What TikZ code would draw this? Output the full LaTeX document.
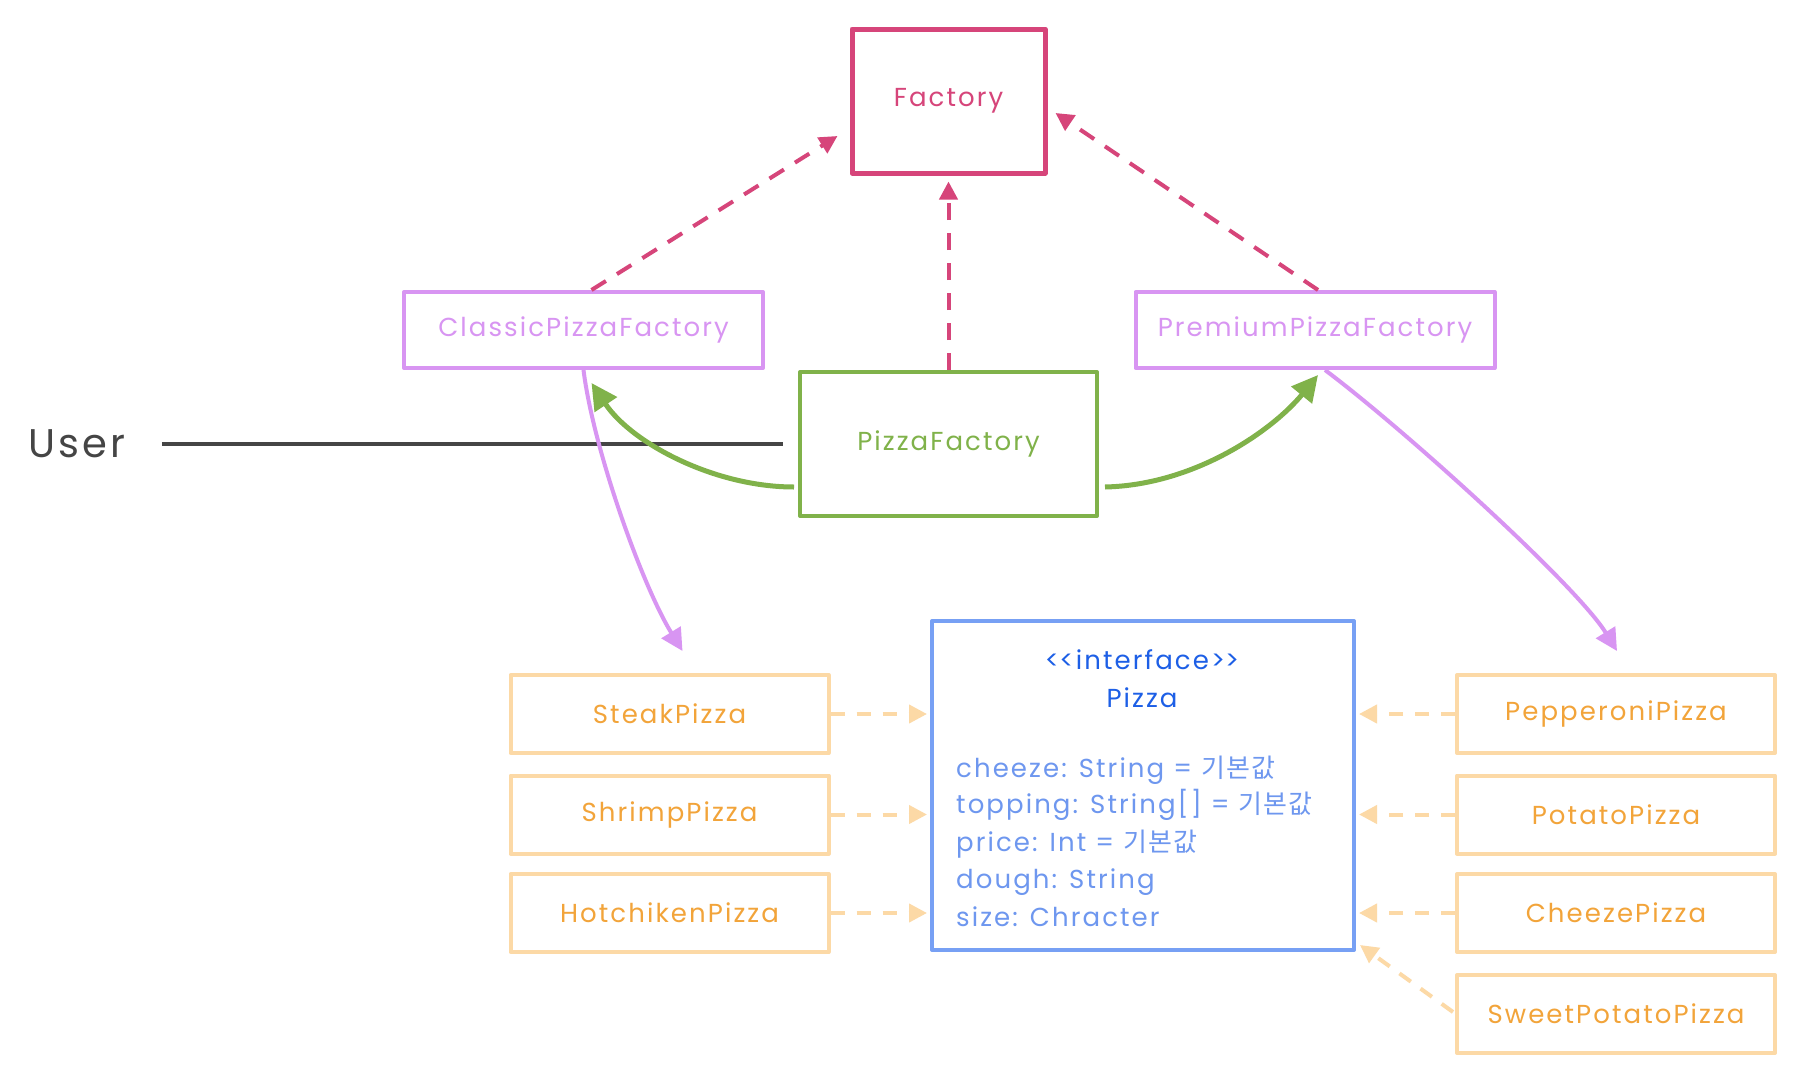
\documentclass[tikz,border=0pt]{standalone}
\usepackage{fontspec}
\setmainfont{Poppins}[LetterSpace=8]
\newfontfamily\korfont{Noto Sans CJK KR}[LetterSpace=4]
\usetikzlibrary{arrows.meta}

\definecolor{fpink}{HTML}{D6457A}
\definecolor{fpurple}{HTML}{D895F2}
\definecolor{fgreen}{HTML}{80B24A}
\definecolor{fblue}{HTML}{77A0F4}
\definecolor{fbluedark}{HTML}{1D5FE6}
\definecolor{fbluetext}{HTML}{6E97EF}
\definecolor{forange}{HTML}{F2A43A}
\definecolor{fpeach}{HTML}{FCD9A6}
\definecolor{fgray}{HTML}{454545}

\newcommand\kor[1]{{\korfont #1}}

\begin{document}
\begin{tikzpicture}[x=1pt,y=-1pt,
  lbl/.style={font=\fontsize{26}{30}\selectfont},
  box/.style={draw, line width=4pt, line join=round, inner sep=0pt, lbl},
  purplebox/.style={box, draw=fpurple, text=fpurple, minimum width=359pt, minimum height=76pt},
  pizzabox/.style={box, draw=fpeach, text=forange, minimum width=318pt, minimum height=78pt},
  field/.style={anchor=base west, inner sep=0pt, text=fbluetext, lbl},
  pinkdash/.style={draw=fpink, line width=4pt, dash pattern=on 17pt off 13pt, -{Triangle[length=18pt,width=18pt]}},
  greenarrow/.style={draw=fgreen, line width=5pt, -{Triangle[length=26pt,width=26pt]}},
  purplearrow/.style={draw=fpurple, line width=4pt, -{Triangle[length=22pt,width=22pt]}},
  peachdash/.style={draw=fpeach, line width=4pt, dash pattern=on 14pt off 12pt, -{Triangle[length=18pt,width=18pt]}}
]
\fill[white] (0,0) rectangle (1810,1076);
\useasboundingbox (0,0) rectangle (1810,1076);

% factories
\node[box, draw=fpink, text=fpink, line width=5pt, minimum width=193pt, minimum height=144pt] (factory) at (948.5,101) {Factory};
\node[purplebox] (cls) at (583.5,330) {ClassicPizzaFactory};
\node[purplebox] (prem) at (1315,330) {PremiumPizzaFactory};
\node[box, draw=fgreen, text=fgreen, minimum width=297pt, minimum height=144pt] (pf) at (948.5,444) {PizzaFactory};

% user
\node[inner sep=0pt, text=fgray, font=\fontsize{40}{46}\selectfont] (user) at (77,444) {User};

% the Pizza interface
\node[box, draw=fblue, minimum width=422pt, minimum height=329pt] (pizza) at (1143,785.5) {};
\node[anchor=base, inner sep=0pt, text=fbluedark, lbl] (stereo) at (1142,669)
  {<\kern0pt<interface>\kern0pt>};
\node[anchor=base, inner sep=0pt, text=fbluedark, lbl] (pname) at (1142,707) {Pizza};
\node[field] (f1) at (956,777) {cheeze: String = \kor{기본값}};
\node[field] (f2) at (956,813) {topping: String[] = \kor{기본값}};
\node[field] (f3) at (956,851) {price: Int = \kor{기본값}};
\node[field] (f4) at (956,888) {dough: String};
\node[field] (f5) at (956,926) {size: Chracter};

% concrete pizzas
\node[pizzabox] (steak) at (669.5,714) {SteakPizza};
\node[pizzabox] (shrimp) at (669.5,814.5) {ShrimpPizza};
\node[pizzabox] (hot) at (669.5,913) {HotchikenPizza};
\node[pizzabox] (pep) at (1616,714) {PepperoniPizza};
\node[pizzabox] (pot) at (1616,814.5) {PotatoPizza};
\node[pizzabox] (chz) at (1616,913) {CheezePizza};
\node[pizzabox] (sweet) at (1616,1014) {SweetPotatoPizza};

% realisations of Factory
\draw[pinkdash] ([xshift=8pt]cls.north) -- ([xshift=-12pt,yshift=-35pt]factory.west);
\draw[pinkdash] ([xshift=3pt]prem.north) -- ([xshift=8pt,yshift=-12pt]factory.east);
\draw[pinkdash] (pf.north) -- ([yshift=-6pt]factory.south);

% user line
\draw[fgray, line width=4pt, shorten <=36pt, shorten >=15pt] (user.east) -- (pf.west);

% PizzaFactory picks a factory
\draw[greenarrow] ([xshift=-4pt,yshift=-43pt]pf.west) .. controls +(-80,0) and +(40,60) .. ([xshift=8pt,yshift=-13pt]cls.south);
\draw[greenarrow] ([xshift=6pt,yshift=-43pt]pf.east) .. controls +(90,-2) and +(-45,55) .. ([xshift=3pt,yshift=-5pt]prem.south);

% factories create pizzas
\draw[purplearrow] (cls.south) .. controls +(10,80) and +(-40,-65) .. ([xshift=13pt,yshift=22pt]steak.north);
\draw[purplearrow] ([xshift=10pt]prem.south) .. controls +(80,60) and +(-40,-65) .. ([xshift=1pt,yshift=22pt]pep.north);

% implementations of Pizza
\foreach \p in {steak,shrimp,hot}
  \draw[peachdash, shorten >=3pt] (\p.east) -- (\p.east -| pizza.west);
\foreach \p in {pep,pot,chz}
  \draw[peachdash, shorten >=3pt] (\p.west) -- (\p.west -| pizza.east);
\draw[peachdash] ([xshift=-2pt,yshift=2pt]sweet.west) -- ([xshift=4pt,yshift=7pt]pizza.south east);
\end{tikzpicture}
\end{document}
